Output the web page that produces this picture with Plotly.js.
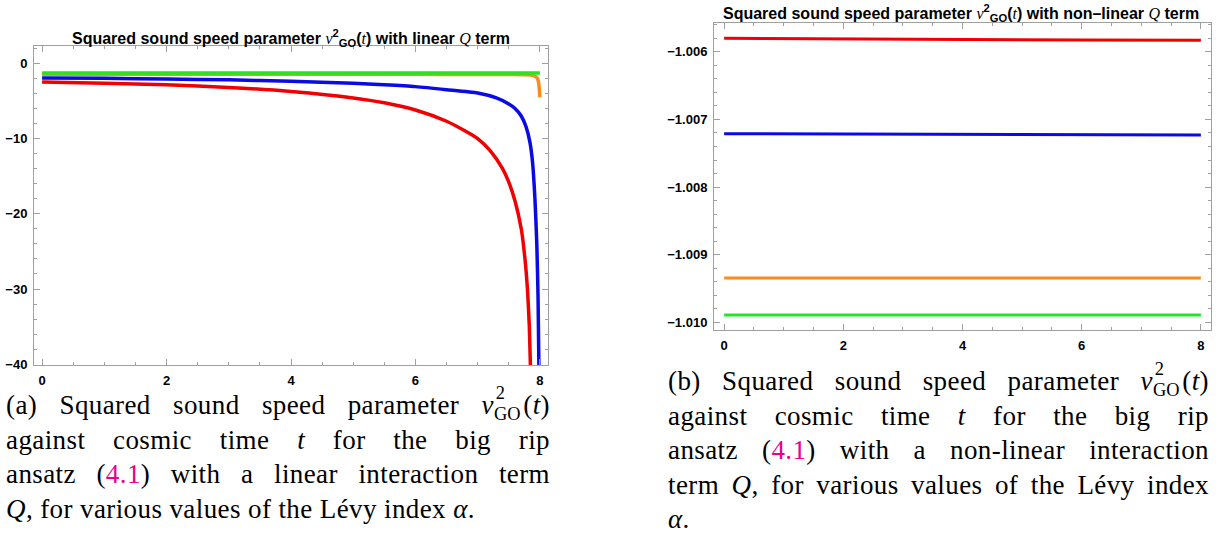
<!DOCTYPE html>
<html><head><meta charset="utf-8">
<script src="https://cdn.plot.ly/plotly-3.0.1.min.js"></script>
<style>
html,body{margin:0;padding:0;background:#fff;}
#wrap{position:relative;width:1222px;height:542px;overflow:hidden;background:#fff;}
#chart{position:absolute;left:0;top:0;width:1222px;height:542px;}
.cap{position:absolute;font-family:'Liberation Serif','Times New Roman',serif;font-size:27px;letter-spacing:0.4px;color:#000;}
.cap .ln{height:34.5px;line-height:34.5px;text-align:justify;text-align-last:justify;white-space:nowrap;}
.cap .ln.last{text-align-last:left;}
.ss{display:inline-block;position:relative;font-size:0.68em;width:1.6em;height:1em;line-height:1;letter-spacing:0;}
.ss .sp{position:absolute;left:0.1em;top:-0.62em;}
.ss .sb{position:absolute;left:0;top:0.52em;}
.pk{color:#ec008c;}
</style>
</head><body>
<div id="wrap">
<div id="chart"></div>
<div class="cap" id="capA" style="left:6px;top:388px;width:544px;">
  <div class="ln">(a) Squared sound speed parameter <i>v</i><span class="ss"><span class="sp">2</span><span class="sb">GO</span></span>(<i>t</i>)</div>
  <div class="ln">against cosmic time <i>t</i> for the big rip</div>
  <div class="ln">ansatz (<span class="pk">4.1</span>) with a linear interaction term</div>
  <div class="ln last"><i>Q</i>, for various values of the Lévy index <i>α</i>.</div>
</div>
<div class="cap" id="capB" style="left:668px;top:364px;width:541px;">
  <div class="ln">(b) Squared sound speed parameter <i>v</i><span class="ss"><span class="sp">2</span><span class="sb">GO</span></span>(<i>t</i>)</div>
  <div class="ln">against cosmic time <i>t</i> for the big rip</div>
  <div class="ln">ansatz (<span class="pk">4.1</span>) with a non-linear interaction</div>
  <div class="ln">term <i>Q</i>, for various values of the Lévy index</div>
  <div class="ln last"><i>α</i>.</div>
</div>
</div>
<script>
// ---- (a) linear Q term ----
const redLinT   = [0, 1, 2, 3, 4, 5, 5.5, 6, 6.5, 6.8, 7.0, 7.2, 7.4, 7.5, 7.6, 7.7, 7.76, 7.8, 7.83, 7.85];
const redLinV   = [-2.5, -2.65, -2.85, -3.2, -3.75, -4.6, -5.25, -6.2, -7.7, -9.0, -10.0, -11.6, -14.0, -15.8, -18.3, -22, -26, -30, -35, -41];
const blueLinT  = [0, 1, 2, 3, 4, 5, 5.5, 6, 6.5, 7.0, 7.3, 7.5, 7.6, 7.7, 7.78, 7.84, 7.88, 7.92, 7.95, 7.97, 7.985];
const blueLinV  = [-1.95, -2.0, -2.1, -2.2, -2.4, -2.65, -2.85, -3.1, -3.5, -3.95, -4.6, -5.4, -6.0, -7.0, -8.5, -10.5, -13, -18, -24, -31, -41];
const orangeLinT = [0, 2, 4, 6, 7, 7.5, 7.8, 7.88, 7.93, 7.96, 7.98, 8.0];
const orangeLinV = [-1.45, -1.45, -1.46, -1.47, -1.48, -1.5, -1.53, -1.6, -1.75, -2.0, -2.6, -4.5];
const greenLinT = [0, 2, 4, 6, 8];
const greenLinV = [-1.3, -1.3, -1.3, -1.3, -1.3];

// ---- (b) non-linear Q term ----
const tNL       = [0, 2, 4, 6, 8];
const redNL     = [-1.00580, -1.005812, -1.00582, -1.005826, -1.00583];
const blueNL    = [-1.007210, -1.007215, -1.00722, -1.007225, -1.00723];
const orangeNL  = [-1.009345, -1.009345, -1.009345, -1.009345, -1.009345];
const greenNL   = [-1.009893, -1.009893, -1.009893, -1.009893, -1.009893];

const xTicks = [0, 2, 4, 6, 8];
const yTicksA = [0, -10, -20, -30, -40];
const yTicksB = [-1.006, -1.007, -1.008, -1.009, -1.010];

const it = s => '<span style="font-family:\'Liberation Serif\';font-style:italic;font-weight:normal">' + s + '</span>';
const titleA = 'Squared sound speed parameter ' + it('v') + '<sup>2</sup><sub>GO</sub>(' + it('t') + ') with linear ' + it('Q') + ' term';
const titleB = 'Squared sound speed parameter ' + it('v') + '<sup>2</sup><sub>GO</sub>(' + it('t') + ') with non\u2013linear ' + it('Q') + ' term';

const C = {red:'#f00000', blue:'#0a0ae6', orange:'#ff8a1c', green:'#22e622'};

function tr(x, y, color, w, xa, ya, shape) {
  return {x: x, y: y, type: 'scatter', mode: 'lines', xaxis: xa, yaxis: ya,
    line: {color: color, width: w, shape: shape || 'spline', smoothing: 0.6}, hoverinfo: 'skip', showlegend: false};
}

const data = [
  tr(redLinT, redLinV, C.red, 3.5, 'x', 'y'),
  tr(blueLinT, blueLinV, C.blue, 3.5, 'x', 'y'),
  tr(orangeLinT, orangeLinV, C.orange, 3.5, 'x', 'y'),
  tr(greenLinT, greenLinV, C.green, 3.5, 'x', 'y', 'linear'),
  tr(tNL, redNL, C.red, 3, 'x2', 'y2', 'linear'),
  tr(tNL, blueNL, C.blue, 3, 'x2', 'y2', 'linear'),
  tr(tNL, orangeNL, C.orange, 3, 'x2', 'y2', 'linear'),
  tr(tNL, greenNL, C.green, 3, 'x2', 'y2', 'linear')
];

const frameCol = '#a0a0a0';
const tickFont = {family: 'Liberation Sans, Arial, sans-serif', size: 13, color: '#000', weight: 'bold'};
function ax(extra) {
  return Object.assign({
    showline: true, linecolor: frameCol, linewidth: 1, mirror: 'allticks',
    ticks: 'inside', ticklen: 6, tickcolor: frameCol, tickwidth: 1,
    showgrid: false, zeroline: false, tickfont: tickFont, ticklabelstandoff: 3,
    fixedrange: true
  }, extra);
}

const layout = {
  width: 1222, height: 542,
  margin: {l: 0, r: 0, t: 0, b: 0},
  paper_bgcolor: '#fff', plot_bgcolor: '#fff',
  showlegend: false,
  xaxis: ax({domain: [34/1222, 548/1222], range: [-0.13, 8.13], tickvals: xTicks, ticktext: xTicks.map(String),
             minor: {dtick: 0.5, tick0: 0, ticks: 'inside', ticklen: 3, tickcolor: frameCol, showgrid: false}, anchor: 'y'}),
  yaxis: ax({domain: [1 - 365/542, 1 - 46/542], range: [-40.1, 2.3], tickvals: yTicksA,
             ticktext: yTicksA.map(v => v === 0 ? '0' : '\u2212' + Math.abs(v)),
             minor: {dtick: 2, tick0: 0, ticks: 'inside', ticklen: 3, tickcolor: frameCol, showgrid: false}, anchor: 'x'}),
  xaxis2: ax({domain: [714/1222, 1211/1222], range: [-0.17, 8.17], tickvals: xTicks, ticktext: xTicks.map(String),
             minor: {dtick: 0.5, tick0: 0, ticks: 'inside', ticklen: 3, tickcolor: frameCol, showgrid: false}, anchor: 'y2'}),
  yaxis2: ax({domain: [1 - 330/542, 1 - 23/542], range: [-1.010113, -1.005574], tickvals: yTicksB,
             ticktext: yTicksB.map(v => '\u2212' + Math.abs(v).toFixed(3)),
             minor: {dtick: 0.0002, tick0: -1.01, ticks: 'inside', ticklen: 3, tickcolor: frameCol, showgrid: false}, anchor: 'x2'}),
  annotations: [
    {text: titleA, xref: 'paper', yref: 'paper', x: 291/1222, y: 1 - 38/542, xanchor: 'center', yanchor: 'middle',
     showarrow: false, font: {family: 'Liberation Sans, Arial, sans-serif', size: 16, color: '#000', weight: 'bold'}},
    {text: titleB, xref: 'paper', yref: 'paper', x: 961/1222, y: 1 - 13/542, xanchor: 'center', yanchor: 'middle',
     showarrow: false, font: {family: 'Liberation Sans, Arial, sans-serif', size: 16, color: '#000', weight: 'bold'}}
  ]
};

Plotly.newPlot('chart', data, layout, {displayModeBar: false, staticPlot: true});
</script>
</body></html>
